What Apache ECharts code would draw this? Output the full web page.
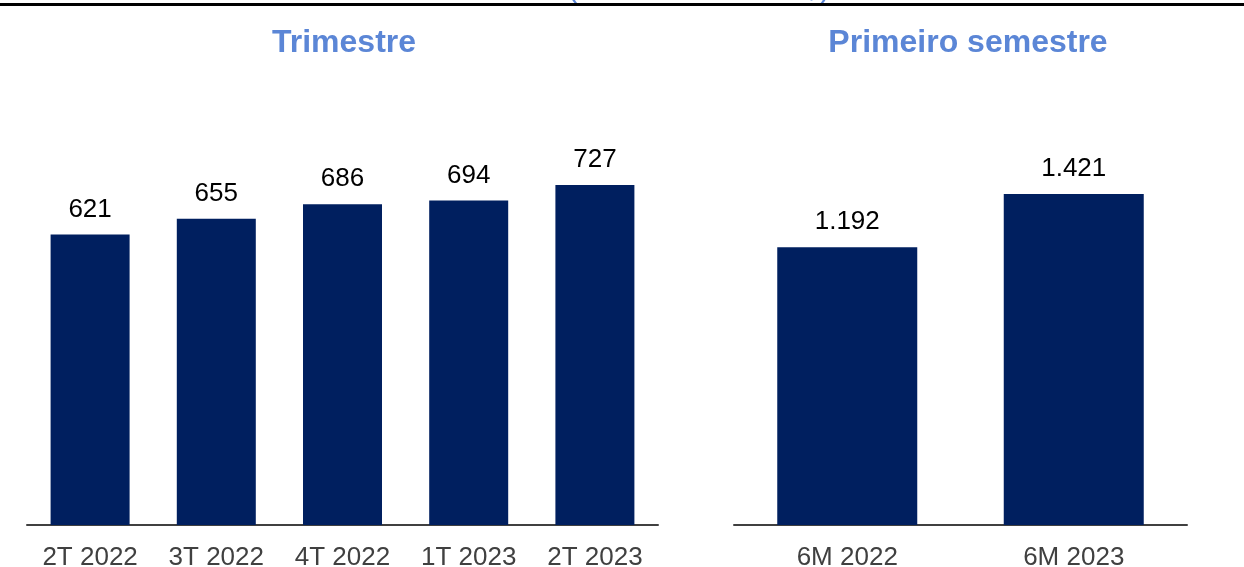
<!DOCTYPE html>
<html><head><meta charset="utf-8">
<script src="https://cdn.jsdelivr.net/npm/echarts@6/dist/echarts.min.js"></script>
<style>html,body{margin:0;padding:0;background:#fff}#c{width:1244px;height:567px}</style>
</head><body><div id="c"></div>
<script>
const quarterCategories = ['2T 2022','3T 2022','4T 2022','1T 2023','2T 2023'];
const quarterValues = [621, 655, 686, 694, 727];
const semesterCategories = ['6M 2022','6M 2023'];
const semesterValues = [1192, 1421];
const titles = ['Trimestre', 'Primeiro semestre'];

const fmt = v => {
  const s = String(v);
  return s.length > 3 ? s.slice(0, s.length - 3) + '.' + s.slice(-3) : s;
};
const FONT = '"Liberation Sans", Arial, sans-serif';
const chart = echarts.init(document.getElementById('c'));
const catAxis = (idx, data) => ({
  type: 'category', gridIndex: idx, data: data,
  axisLine: { show: true, lineStyle: { color: '#404040', width: 2 } },
  axisTick: { show: false },
  axisLabel: { color: '#404040', fontSize: 26, fontFamily: FONT, margin: 20 }
});
const valAxis = (idx, max) => ({
  type: 'value', gridIndex: idx, min: 0, max: max,
  show: false, splitLine: { show: false }
});
const labelCfg = {
  show: true, position: 'top', distance: 12, color: '#000', fontSize: 26,
  fontFamily: FONT, formatter: p => fmt(p.value)
};
const titleStyle = { color: '#5B86D6', fontSize: 32, fontWeight: 'bold', fontFamily: FONT };
chart.setOption({
  animation: false,
  title: [
    { text: titles[0], left: 339, top: 22, textAlign: 'center', textStyle: titleStyle },
    { text: titles[1], left: 963, top: 22, textAlign: 'center', textStyle: titleStyle }
  ],
  graphic: [
    { type: 'text', left: 568, top: -25, style: { text: '(em milhões de R$)', fill: '#5B86D6', font: '30px "Liberation Sans", Arial' } },
    { type: 'rect', shape: { x: 0, y: 3, width: 1244, height: 3 }, style: { fill: '#000' } }
  ],
  grid: [
    { left: 27, width: 631, bottom: 42, height: 467.7, containLabel: false, outerBoundsMode: 'none' },
    { left: 734, width: 453, bottom: 42, height: 465.9, containLabel: false, outerBoundsMode: 'none' }
  ],
  xAxis: [catAxis(0, quarterCategories), catAxis(1, semesterCategories)],
  yAxis: [valAxis(0, 1000), valAxis(1, 2000)],
  series: [
    { type: 'bar', xAxisIndex: 0, yAxisIndex: 0, data: quarterValues, barWidth: 79,
      itemStyle: { color: '#001F5F' }, label: labelCfg },
    { type: 'bar', xAxisIndex: 1, yAxisIndex: 1, data: semesterValues, barWidth: 140,
      itemStyle: { color: '#001F5F' }, label: labelCfg }
  ]
});
</script></body></html>
